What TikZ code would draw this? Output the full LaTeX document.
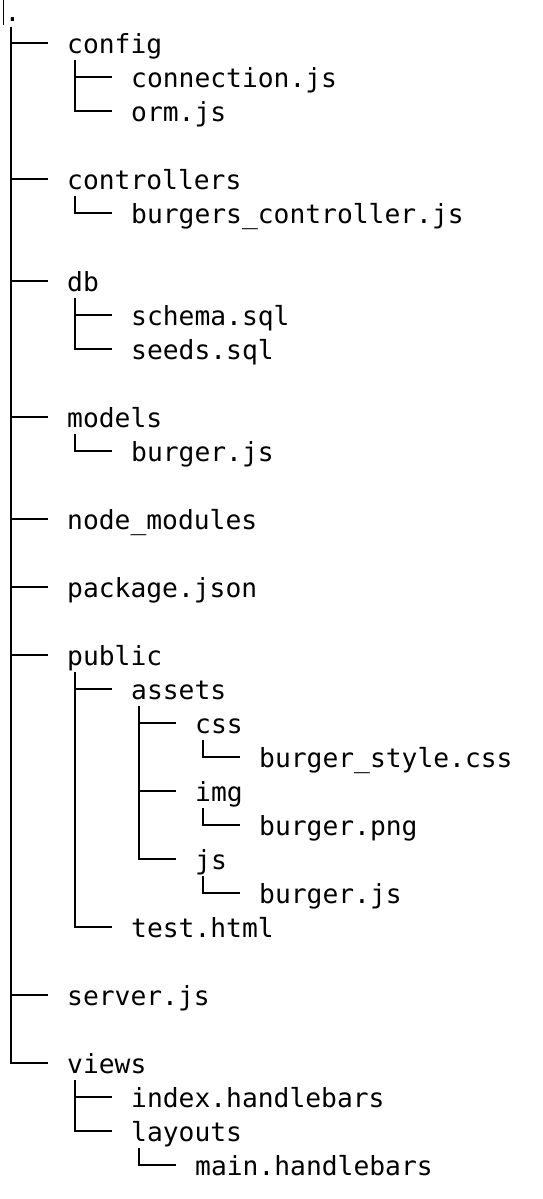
\documentclass[tikz,border=0pt]{standalone}
\usepackage{fontspec}
\setmonofont{DejaVu Sans Mono}
\usetikzlibrary{calc}
\tikzset{
  item/.style={anchor=west, inner sep=0pt, text height=26pt, text depth=6pt,
    font=\ttfamily\fontsize{26.3}{30}\selectfont, text=black},
  branch/.style={draw=black, line width=1.9pt, shorten >=19pt, line join=miter},
}
\begin{document}
\begin{tikzpicture}[x=1pt,y=-1pt]
\useasboundingbox (0,0) rectangle (542,1199);
\fill[white] (0,0) rectangle (542,1199);
% text cursor mark
\draw[line width=0.9pt] (3,0) -- (3,25);
% nodes
\node[item] (root) at (4.5,12) {.};
\node[item] (config) at (67,43) {config};
\node[item] (connection) at (131,77) {connection.js};
\node[item] (orm) at (131,111) {orm.js};
\node[item] (controllers) at (67,179) {controllers};
\node[item] (bctrl) at (131,213) {burgers\_controller.js};
\node[item] (db) at (67,281) {db};
\node[item] (schema) at (131,315) {schema.sql};
\node[item] (seeds) at (131,349) {seeds.sql};
\node[item] (models) at (67,417) {models};
\node[item] (burgerjs) at (131,451) {burger.js};
\node[item] (nodemod) at (67,519) {node\_modules};
\node[item] (package) at (67,587) {package.json};
\node[item] (public) at (67,655) {public};
\node[item] (assets) at (131,689) {assets};
\node[item] (css) at (195,723) {css};
\node[item] (bstyle) at (259,757) {burger\_style.css};
\node[item] (img) at (195,791) {img};
\node[item] (bpng) at (259,825) {burger.png};
\node[item] (js) at (195,859) {js};
\node[item] (bjs) at (259,893) {burger.js};
\node[item] (test) at (131,927) {test.html};
\node[item] (server) at (67,995) {server.js};
\node[item] (views) at (67,1063) {views};
\node[item] (index) at (131,1097) {index.handlebars};
\node[item] (layouts) at (131,1131) {layouts};
\node[item] (mainhb) at (195,1165) {main.handlebars};
% stems
\coordinate (root-stem) at ($(root.west)+(6.5,15)$);
\foreach \p in {config,controllers,db,models,public,assets,css,img,js,views,layouts}
  \coordinate (\p-stem) at ($(\p.west)+(8,17)$);
% connectors
\foreach \p/\c in {root/config,root/controllers,root/db,root/models,root/nodemod,
  root/package,root/public,root/server,root/views,
  config/connection,config/orm,controllers/bctrl,db/schema,db/seeds,models/burgerjs,
  public/assets,public/test,assets/css,assets/img,assets/js,
  css/bstyle,img/bpng,js/bjs,views/index,views/layouts,layouts/mainhb}
  \draw[branch] (\p-stem) |- (\c.west);
\end{tikzpicture}
\end{document}
